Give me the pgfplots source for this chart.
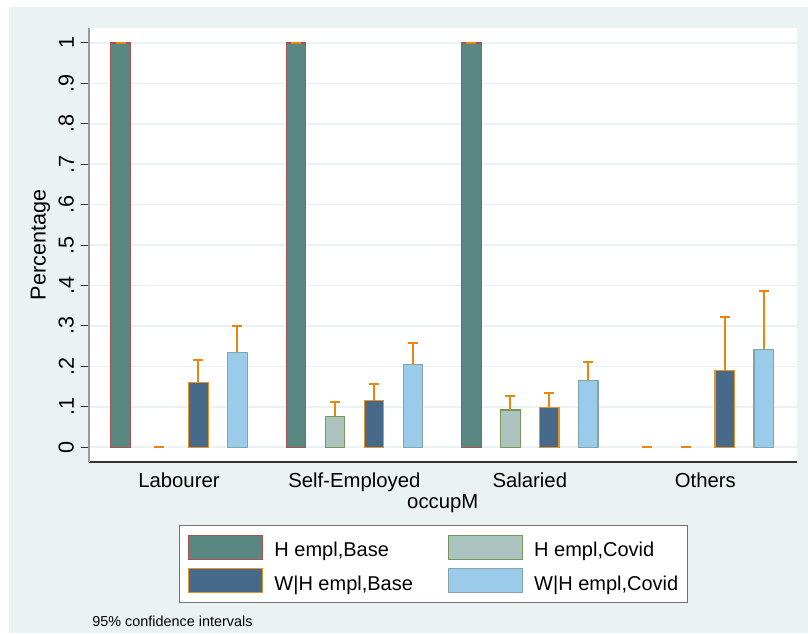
\documentclass[border=0pt]{standalone}
\usepackage{fontspec}
\setmainfont{Liberation Sans}
\usepackage{pgfplots}
\pgfplotsset{compat=1.18}
\definecolor{bgc}{RGB}{234,242,243}
\definecolor{gridc}{RGB}{234,242,243}
\definecolor{cA}{RGB}{88,136,129}
\definecolor{cAe}{RGB}{170,82,82}
\definecolor{cB}{RGB}{172,196,191}
\definecolor{cBe}{RGB}{122,150,90}
\definecolor{cC}{RGB}{72,106,138}
\definecolor{cCe}{RGB}{232,146,40}
\definecolor{cD}{RGB}{155,203,234}
\definecolor{cDe}{RGB}{130,165,165}
\definecolor{ebc}{RGB}{232,134,17}
\begin{document}
\begin{tikzpicture}
\fill[white] (-44.5pt,-85.5pt) rectangle (359.5pt,231pt);
\fill[bgc] (-40pt,-85.5pt) rectangle (359.5pt,227.5pt);
\begin{axis}[
  at={(0pt,0pt)}, anchor=south west,
  scale only axis, width=353.75pt, height=217pt,
  xmin=-0.808, xmax=17.34, ymin=-0.0364, ymax=1.037,
  axis background/.style={fill=white},
  axis x line*=bottom, axis y line*=left,
  x axis line style={draw=black!80, line width=0.6pt},
  y axis line style={draw=black!40, line width=1pt},
  tick align=outside, major tick length=4pt,
  xtick style={draw=none},
  ytick style={draw=black!80, line width=0.5pt},
  xtick={1.5,6,10.5,15},
  xticklabels={Labourer,Self-Employed,Salaried,Others},
  ytick={0,0.1,0.2,0.3,0.4,0.5,0.6,0.7,0.8,0.9,1},
  yticklabels={0,.1,.2,.3,.4,.5,.6,.7,.8,.9,1},
  ymajorgrids, grid style={draw=gridc, line width=0.8pt},
  xticklabel style={font=\fontsize{10.15pt}{12pt}\selectfont, yshift=2pt},
  yticklabel style={font=\fontsize{10.8pt}{12pt}\selectfont, rotate=90, anchor=south},
  xlabel={occupM},
  xlabel style={font=\fontsize{10.15pt}{12pt}\selectfont, at={(axis description cs:0.5,0)}, anchor=base, yshift=-23pt},
  ylabel={Percentage},
  ylabel style={font=\fontsize{10.8pt}{12pt}\selectfont, at={(axis description cs:-0.0686,0.5)}, anchor=center, rotate=0},
  legend columns=2,
  legend cell align=left,
  legend image code/.code={\draw[#1, line width=0.6pt] (0pt,-4pt) rectangle (37pt,8pt);},
  legend style={at={(0.4866,-0.1452)}, anchor=north, draw=black!55, line width=0.6pt, fill=white,
    inner xsep=4.5pt, inner ysep=4.5pt, row sep=4pt,
    font=\fontsize{10pt}{12pt}\selectfont,
    nodes={inner sep=0pt},
    /tikz/every odd column/.append style={column sep=5.5pt},
    /tikz/every even column/.append style={column sep=17.5pt}},
]
\addplot[ybar, bar width=0.5, bar shift=0pt, fill=cA, draw=cAe, line width=0.6pt]
  coordinates {(0,1) (4.5,1) (9,1)};
\addlegendentry{H empl,Base}
\addplot[ybar, bar width=0.5, bar shift=0pt, fill=cB, draw=cBe, line width=0.6pt]
  coordinates {(5.5,0.077) (10,0.092)};
\addlegendentry{H empl,Covid}
\addplot[ybar, bar width=0.5, bar shift=0pt, fill=cC, draw=cCe, line width=0.6pt]
  coordinates {(2,0.161) (6.5,0.115) (11,0.098) (15.5,0.189)};
\addlegendentry{W|H empl,Base}
\addplot[ybar, bar width=0.5, bar shift=0pt, fill=cD, draw=cDe, line width=0.6pt]
  coordinates {(3,0.235) (7.5,0.204) (12,0.166) (16.5,0.242)};
\addlegendentry{W|H empl,Covid}
\addplot[draw=none, mark=none, forget plot,
  error bars/.cd, y dir=plus, y explicit,
  error bar style={draw=ebc, line width=1pt, solid},
  error mark options={draw=ebc, line width=1pt, mark size=2.5pt, rotate=90}]
  table[x=x, y=y, y error plus=ep] {
x y ep
0 1 0
1 0 0
2 0.161 0.055
3 0.235 0.064
4.5 1 0
5.5 0.077 0.035
6.5 0.115 0.042
7.5 0.204 0.055
9 1 0
10 0.092 0.036
11 0.098 0.037
12 0.166 0.046
13.5 0 0
14.5 0 0
15.5 0.189 0.133
16.5 0.242 0.145
};
\end{axis}
\node[anchor=base west, inner sep=0pt, font=\fontsize{7.2pt}{9pt}\selectfont] at (1.5pt,-82pt) {95\% confidence intervals};
\end{tikzpicture}
\end{document}
